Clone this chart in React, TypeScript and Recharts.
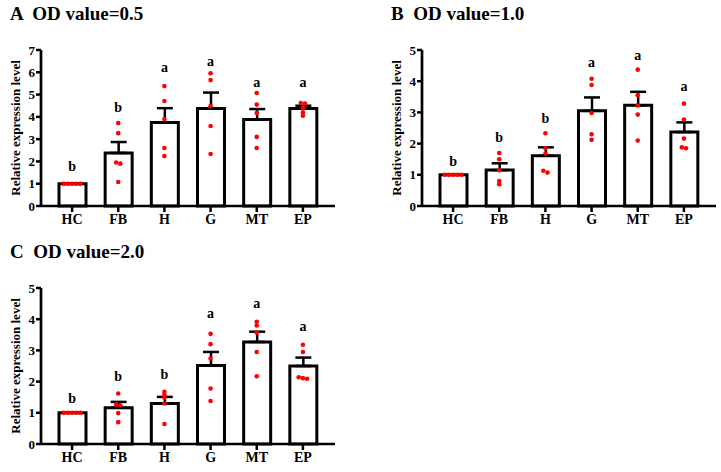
import { Bar, ComposedChart, ErrorBar, Scatter, XAxis, YAxis } from "recharts";

const SERIF = "'Liberation Serif', 'Times New Roman', serif";

const CATEGORIES = ["HC", "FB", "H", "G", "MT", "EP"];

// panel A: OD value = 0.5
const MEAN_A = [1.0, 2.38, 3.75, 4.38, 3.88, 4.37];
const SEM_A = [0, 0.49, 0.64, 0.71, 0.47, 0.13];
const DOTS_A = [
  [1, 1, 1, 1, 1],
  [3.72, 3.27, 1.95, 1.9, 1.08],
  [5.38, 4.71, 3.9, 2.6, 2.24],
  [5.96, 5.65, 4.48, 3.59, 2.33],
  [5.07, 4.55, 4.17, 3.1, 2.6],
  [4.62, 4.6, 4.4, 4.2, 4.05],
];
const LETTERS_A = ["b", "b", "a", "a", "a", "a"];
const LETTER_Y_A = [1.79, 4.4, 6.22, 6.49, 5.55, 5.55];

// panel B: OD value = 1.0
const MEAN_B = [1.0, 1.15, 1.61, 3.05, 3.23, 2.37];
const SEM_B = [0, 0.22, 0.27, 0.43, 0.43, 0.31];
const DOTS_B = [
  [1, 1, 1, 1, 1],
  [1.7, 1.5, 1.15, 0.8, 0.7],
  [2.33, 1.85, 1.68, 1.13, 1.07],
  [4.08, 3.88, 2.98, 2.3, 2.12],
  [4.37, 3.55, 3.22, 2.93, 2.1],
  [3.28, 2.77, 2.16, 1.88, 1.85],
];
const LETTERS_B = ["b", "b", "b", "a", "a", "a"];
const LETTER_Y_B = [1.43, 2.19, 2.81, 4.6, 4.83, 3.83];

// panel C: OD value = 2.0
const MEAN_C = [1.0, 1.16, 1.3, 2.52, 3.27, 2.5];
const SEM_C = [0, 0.19, 0.21, 0.43, 0.33, 0.27];
const DOTS_C = [
  [1, 1, 1, 1, 1],
  [1.62, 1.27, 1.24, 0.99, 0.7],
  [1.67, 1.58, 1.48, 1.3, 0.64],
  [3.53, 3.2, 2.74, 1.78, 1.38],
  [3.92, 3.8, 3.57, 2.95, 2.17],
  [3.18, 2.95, 2.14, 2.11, 2.09],
];
const LETTERS_C = ["b", "b", "b", "a", "a", "a"];
const LETTER_Y_C = [1.46, 2.17, 2.22, 4.17, 4.51, 3.78];

const TICKS_7 = [0, 1, 2, 3, 4, 5, 6, 7];
const TICKS_5 = [0, 1, 2, 3, 4, 5];

const W = 360;
const H = 236;
const PLOT_H = 156;

// spread replicates with (almost) the same value side by side, like Prism does
function jitterOffset(vals: number[], i: number, thr: number, step: number) {
  const group = vals.map((v, k) => k).filter((k) => Math.abs(vals[k] - vals[i]) <= thr);
  const pos = group.indexOf(i);
  return (pos - (group.length - 1) / 2) * step;
}

interface PanelProps {
  title: string;
  left: number;
  top: number;
  yMax: number;
  ticks: number[];
  mean: number[];
  sem: number[];
  dots: number[][];
  letters: string[];
  letterY: number[];
}

function Panel({ title, left, top, yMax, ticks, mean, sem, dots, letters, letterY }: PanelProps) {
  const data = CATEGORIES.map((cat, i) => ({
    cat,
    mean: mean[i],
    err: [0, sem[i]],
    r0: dots[i][0],
    r1: dots[i][1],
    r2: dots[i][2],
    r3: dots[i][3],
    r4: dots[i][4],
    letter: letters[i],
    ly: letterY[i],
  }));
  // 2.5px in data units
  const thr = (2.5 * yMax) / PLOT_H;
  const tickStyle = { fill: "#000", fontSize: 13, fontWeight: 700, fontFamily: SERIF };

  return (
    <div style={{ position: "absolute", left, top, width: W, height: H }}>
      <div
        style={{
          position: "absolute",
          left: 10,
          top: 4,
          fontFamily: SERIF,
          fontWeight: 700,
          fontSize: 19,
          lineHeight: "19px",
          whiteSpace: "pre",
          color: "#000",
        }}
      >
        {title}
      </div>
      <ComposedChart
        width={W}
        height={H}
        data={data}
        margin={{ top: 50, right: 25, bottom: 0, left: 0 }}
      >
        <XAxis
          dataKey="cat"
          type="category"
          height={30}
          padding={{ left: 8, right: 9 }}
          axisLine={{ stroke: "#000", strokeWidth: 2.7 }}
          tickLine={{ stroke: "#000", strokeWidth: 2.5 }}
          tickSize={6}
          tick={{ ...tickStyle, fontSize: 14 }}
        />
        <YAxis
          width={41}
          domain={[0, yMax]}
          ticks={ticks}
          interval={0}
          axisLine={{ stroke: "#000", strokeWidth: 2.7 }}
          tickLine={{ stroke: "#000", strokeWidth: 2.5 }}
          tickSize={5}
          tickMargin={1}
          tick={tickStyle}
          label={(p: any) => {
            const vb = p.viewBox;
            const cx = 15;
            const cy = vb.y + vb.height / 2;
            return (
              <text
                x={cx}
                y={cy}
                transform={`rotate(-90, ${cx}, ${cy})`}
                textAnchor="middle"
                dominantBaseline="central"
                fill="#000"
                fontFamily={SERIF}
                fontWeight={700}
                fontSize={13}
              >
                Relative expression level
              </text>
            );
          }}
        />
        <Bar dataKey="mean" fill="#fff" stroke="#000" strokeWidth={3} barSize={27} isAnimationActive={false}>
          <ErrorBar dataKey="err" direction="y" width={8} stroke="#000" strokeWidth={2.5} isAnimationActive={false} />
        </Bar>
        {[0, 1, 2, 3, 4].map((k) => (
          <Scatter
            key={k}
            dataKey={`r${k}`}
            isAnimationActive={false}
            shape={(p: any) => {
              const i = CATEGORIES.indexOf(p.payload.cat);
              const dx = jitterOffset(dots[i], k, thr, 4.2);
              return <circle cx={p.cx + dx} cy={p.cy} r={2.3} fill="#ff0000" />;
            }}
          />
        ))}
        <Scatter
          dataKey="ly"
          isAnimationActive={false}
          shape={(p: any) => (
            <text
              x={p.cx}
              y={p.cy}
              textAnchor="middle"
              dominantBaseline="central"
              fill="#000"
              fontFamily={SERIF}
              fontWeight={700}
              fontSize={14}
            >
              {p.payload.letter}
            </text>
          )}
        />
      </ComposedChart>
    </div>
  );
}

export default function App() {
  return (
    <div style={{ position: "absolute", left: 0, top: 0, width: 721, height: 472, background: "#fff" }}>
      <Panel
        title="A  OD value=0.5"
        left={0}
        top={0}
        yMax={7}
        ticks={TICKS_7}
        mean={MEAN_A}
        sem={SEM_A}
        dots={DOTS_A}
        letters={LETTERS_A}
        letterY={LETTER_Y_A}
      />
      <Panel
        title="B  OD value=1.0"
        left={381}
        top={0}
        yMax={5}
        ticks={TICKS_5}
        mean={MEAN_B}
        sem={SEM_B}
        dots={DOTS_B}
        letters={LETTERS_B}
        letterY={LETTER_Y_B}
      />
      <Panel
        title="C  OD value=2.0"
        left={0}
        top={238}
        yMax={5}
        ticks={TICKS_5}
        mean={MEAN_C}
        sem={SEM_C}
        dots={DOTS_C}
        letters={LETTERS_C}
        letterY={LETTER_Y_C}
      />
    </div>
  );
}
